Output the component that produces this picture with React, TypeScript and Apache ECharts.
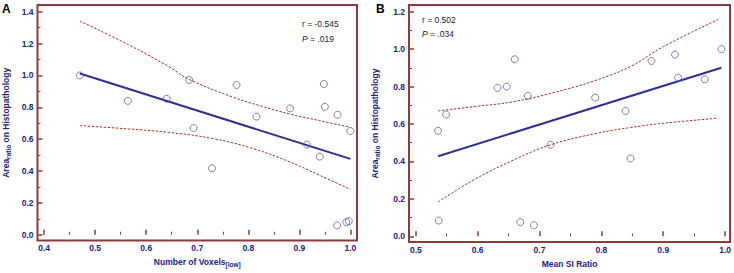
import React, { useEffect, useRef } from "react";
import * as echarts from "echarts";

// Panel A: Number of Voxels[low] vs Area ratio
const pointsA: number[][] = [
  [0.47, 1.0], [0.564, 0.84], [0.64, 0.853], [0.684, 0.971], [0.693, 0.67],
  [0.729, 0.417], [0.777, 0.94], [0.816, 0.741], [0.882, 0.793], [0.915, 0.566],
  [0.94, 0.49], [0.948, 0.946], [0.95, 0.803], [0.975, 0.753], [1.0, 0.651],
  [0.974, 0.058], [0.992, 0.079], [0.997, 0.085],
];
const regA: number[][] = [[0.47, 1.012], [1.0, 0.476]];
const upperA: number[][] = [
  [0.47, 1.342], [0.565, 1.193], [0.643, 1.058], [0.684, 0.975], [0.772, 0.861],
  [0.824, 0.809], [0.882, 0.757], [0.94, 0.716], [1.0, 0.674],
];
const lowerA: number[][] = [
  [0.47, 0.685], [0.565, 0.664], [0.643, 0.643], [0.733, 0.602], [0.811, 0.539],
  [0.882, 0.456], [0.94, 0.373], [1.0, 0.284],
];

// Panel B: Mean SI Ratio vs Area ratio
const pointsB: number[][] = [
  [0.536, 0.564], [0.537, 0.084], [0.549, 0.651], [0.632, 0.793], [0.647, 0.8],
  [0.66, 0.946], [0.669, 0.076], [0.681, 0.75], [0.691, 0.059], [0.718, 0.489],
  [0.79, 0.741], [0.839, 0.67], [0.847, 0.416], [0.881, 0.937], [0.919, 0.971],
  [0.924, 0.848], [0.967, 0.839], [0.994, 1.0],
];
const regB: number[][] = [[0.536, 0.428], [0.994, 0.901]];
const upperB: number[][] = [
  [0.536, 0.67], [0.594, 0.693], [0.659, 0.72], [0.739, 0.782], [0.793, 0.836],
  [0.847, 0.907], [0.9, 1.013], [0.989, 1.159],
];
const lowerB: number[][] = [
  [0.536, 0.183], [0.594, 0.302], [0.659, 0.409], [0.718, 0.489], [0.793, 0.551],
  [0.847, 0.581], [0.9, 0.604], [0.989, 0.631],
];

const xMajorA = [0.4, 0.5, 0.6, 0.7, 0.8, 0.9, 1.0];
const xMinorA = [0.45, 0.55, 0.65, 0.75, 0.85, 0.95];
const yMajorA = [0, 0.2, 0.4, 0.6, 0.8, 1.0, 1.2, 1.4];
const yMinorA = [0.1, 0.3, 0.5, 0.7, 0.9, 1.1, 1.3];
const xMajorB = [0.5, 0.6, 0.7, 0.8, 0.9, 1.0];
const xMinorB = [0.55, 0.65, 0.75, 0.85, 0.95];
const yMajorB = [0, 0.2, 0.4, 0.6, 0.8, 1.0, 1.2];
const yMinorB = [0.1, 0.3, 0.5, 0.7, 0.9, 1.1];

const FRAME = "#8c3b3b";
const NAVY = "#23237d";
const FONT = "Liberation Sans, Arial, sans-serif";

const nameRich = {
  a: { fontSize: 8.5, fontWeight: "bold", color: NAVY, fontFamily: FONT, lineHeight: 12 },
  s: { fontSize: 6.5, fontWeight: "bold", color: NAVY, fontFamily: FONT, lineHeight: 12, verticalAlign: "bottom" },
};

function majorAxis(grid: number, min: number, max: number, ticks: number[], isX: boolean, name: string, nameGap: number): any {
  return {
    type: "value",
    gridIndex: grid,
    min,
    max,
    position: isX ? "bottom" : "left",
    axisLine: { show: false },
    splitLine: { show: false },
    axisTick: { show: true, inside: true, length: 5, customValues: ticks, lineStyle: { color: FRAME, width: 1.5 } },
    axisLabel: {
      show: true,
      customValues: ticks,
      formatter: (v: number) => v.toFixed(1),
      color: NAVY,
      fontWeight: "bold",
      fontSize: 8.5,
      fontFamily: FONT,
      margin: isX ? 3 : 4,
    },
    name,
    nameLocation: "middle",
    nameGap,
    nameRotate: isX ? 0 : 90,
    nameTextStyle: { rich: nameRich },
  };
}

function minorAxis(grid: number, min: number, max: number, ticks: number[], isX: boolean): any {
  return {
    type: "value",
    gridIndex: grid,
    min,
    max,
    position: isX ? "bottom" : "left",
    axisLine: { show: false },
    splitLine: { show: false },
    axisTick: { show: true, inside: true, length: 3, customValues: ticks, lineStyle: { color: FRAME, width: 1 } },
    axisLabel: { show: false },
  };
}

function seriesFor(xi: number, yi: number, pts: number[][], reg: number[][], up: number[][], lo: number[][]): any[] {
  const band = (data: number[][]) => ({
    type: "line",
    xAxisIndex: xi,
    yAxisIndex: yi,
    data,
    smooth: 0.4,
    symbol: "none",
    lineStyle: { color: "#a8342e", width: 1, type: [2.5, 1.5] },
    z: 2,
  });
  return [
    band(up),
    band(lo),
    {
      type: "line",
      xAxisIndex: xi,
      yAxisIndex: yi,
      data: reg,
      symbol: "none",
      lineStyle: { color: "#2e3192", width: 2 },
      z: 3,
    },
    {
      type: "scatter",
      xAxisIndex: xi,
      yAxisIndex: yi,
      data: pts,
      symbol: "circle",
      symbolSize: 7,
      itemStyle: { color: "rgba(255,255,255,0)", borderColor: "#5f5fb0", borderWidth: 1 },
      z: 4,
    },
  ];
}

export default function App() {
  const ref = useRef<HTMLDivElement>(null);
  useEffect(() => {
    if (!ref.current) return;
    const chart = echarts.init(ref.current, undefined, { renderer: "svg" });
    const ann = (x: number, y: number, text: string) => ({
      type: "text",
      x,
      y,
      style: {
        text,
        fontSize: 8.5,
        fontFamily: FONT,
        fill: "#222",
        verticalAlign: "middle",
        rich: {
          i: { fontStyle: "italic", fontSize: 8.5, fontFamily: FONT, fill: "#222" },
        },
      },
    });
    const panelLabel = (x: number, y: number, text: string) => ({
      type: "text",
      x,
      y,
      style: { text, fontSize: 12, fontWeight: "bold", fontFamily: FONT, fill: "#000", verticalAlign: "middle" },
    });
    chart.setOption({
      animation: false,
      backgroundColor: "#fff",
      grid: [
        { left: 35, top: 5, width: 322, height: 237.5, show: true, borderColor: FRAME, borderWidth: 2, backgroundColor: "transparent" },
        { left: 409, top: 5, width: 322, height: 237.5, show: true, borderColor: FRAME, borderWidth: 2, backgroundColor: "transparent" },
      ],
      xAxis: [
        majorAxis(0, 0.387, 1.013, xMajorA, true, "{a|Number of Voxels}{s|[low]}", 14),
        minorAxis(0, 0.387, 1.013, xMinorA, true),
        majorAxis(1, 0.489, 1.008, xMajorB, true, "{a|Mean SI Ratio}", 14),
        minorAxis(1, 0.489, 1.008, xMinorB, true),
      ],
      yAxis: [
        majorAxis(0, -0.037, 1.442, yMajorA, false, "{a|Area}{s|ratio}{a| on Histopathology}", 26),
        minorAxis(0, -0.037, 1.442, yMinorA, false),
        majorAxis(1, -0.031, 1.236, yMajorB, false, "{a|Area}{s|ratio}{a| on Histopathology}", 28),
        minorAxis(1, -0.031, 1.236, yMinorB, false),
      ],
      series: [
        ...seriesFor(0, 0, pointsA, regA, upperA, lowerA),
        ...seriesFor(2, 2, pointsB, regB, upperB, lowerB),
      ],
      graphic: [
        panelLabel(2, 9, "A"),
        panelLabel(376, 9, "B"),
        ann(302, 24, "r = -0.545"),
        ann(302, 39, "{i|P} = .019"),
        ann(422, 20, "r = 0.502"),
        ann(422, 34, "{i|P} = .034"),
      ],
    });
    return () => chart.dispose();
  }, []);
  return <div ref={ref} style={{ width: 734, height: 273, position: "absolute", left: 0, top: 0 }} />;
}
